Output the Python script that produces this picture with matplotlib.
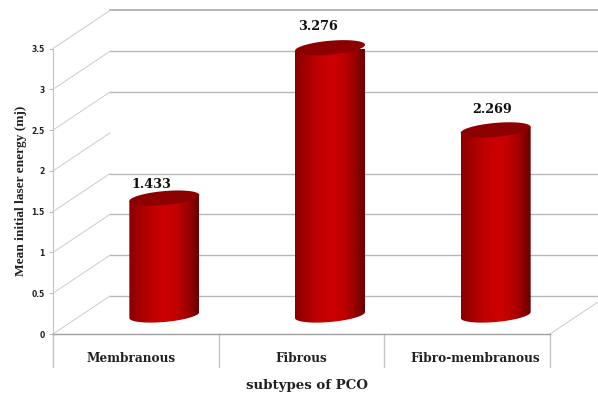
import numpy as np
import matplotlib
matplotlib.use('Agg')
import matplotlib.pyplot as plt
from matplotlib.colors import LinearSegmentedColormap
from matplotlib.patches import Polygon

categories = ['Membranous', 'Fibrous', 'Fibro-membranous']
values = [1.433, 3.276, 2.269]
value_labels = ['1.433', '3.276', '2.269']
y_ticks = [0, 0.5, 1, 1.5, 2, 2.5, 3, 3.5]
y_tick_labels = ['0', '0.5', '1', '1.5', '2', '2.5', '3', '3.5']
wall_lines = [0, 0.5, 1, 1.5, 2.5, 3, 3.5]

# size of one data unit in pixels, and the depth of the fake 3d box
PX_X = 165.67
PX_Y = 81.5
DEPTH_X = 57 / PX_X
DEPTH_Y = 38 / PX_Y
HALF_WIDTH = 35 / PX_X
ELLIPSE_H = 7 / PX_Y
ELLIPSE_TILT = 3 / PX_Y

bar_cmap = LinearSegmentedColormap.from_list(
    'cylinder', ['#8a0000', '#a50000', '#c00000', '#cc0000', '#c40000', '#a00000', '#680000'])


def ellipse_points(cx, cy, start=0, stop=2 * np.pi, num=80):
    """Return the outline of a cylinder end, leaning up towards the right."""
    t = np.linspace(start, stop, num)
    x = cx + HALF_WIDTH * np.cos(t)
    y = cy + ELLIPSE_TILT * np.cos(t) + ELLIPSE_H * np.sin(t)
    return np.column_stack([x, y])


def draw_cylinder(ax, pos, value):
    cx = pos + DEPTH_X / 2
    cy = DEPTH_Y / 2

    # side of the cylinder: top rim, then the lower half of the base ellipse
    top = np.array([[cx + HALF_WIDTH, value + cy + ELLIPSE_TILT], [cx - HALF_WIDTH, value + cy - ELLIPSE_TILT]])
    base = ellipse_points(cx, cy, np.pi, 2 * np.pi)
    side = Polygon(np.vstack([top, base]), closed=True, facecolor='none', edgecolor='none', clip_on=False)
    ax.add_patch(side)

    shade = np.linspace(0, 1, 256).reshape(1, -1)
    img = ax.imshow(shade, cmap=bar_cmap, aspect='auto', zorder=3,
                    extent=[cx - HALF_WIDTH, cx + HALF_WIDTH, cy - ELLIPSE_H * 1.5, value + cy + ELLIPSE_H])
    img.set_clip_path(side)

    lid = Polygon(ellipse_points(cx, value + cy), closed=True, facecolor='#8c0000', edgecolor='none',
                  zorder=4, clip_on=False)
    ax.add_patch(lid)
    return cx, value + cy


fig = plt.figure(figsize=(5.98, 3.94), dpi=100)
ax = fig.add_axes([53 / 598, (394 - 334) / 394, 497 / 598, 285.5 / 394])

# back wall lines and the slanted lines on the side wall
for v in wall_lines:
    top_line = v == 3.5
    ax.plot([DEPTH_X, 3 + DEPTH_X], [v + DEPTH_Y, v + DEPTH_Y], color='#b8b8b8',
            lw=1.4 if top_line else 1.0, clip_on=False, zorder=1)
for v in y_ticks:
    ax.plot([0, DEPTH_X], [v, v + DEPTH_Y], color='#cccccc', lw=0.7, clip_on=False, zorder=1)
ax.plot([3, 3 + DEPTH_X], [0, DEPTH_Y], color='#cccccc', lw=0.7, clip_on=False, zorder=1)

# separators between the categories, hanging below the floor
for pos in range(4):
    ax.plot([pos, pos], [0, -33 / PX_Y], color='#c4c4c4', lw=1.0, clip_on=False, zorder=1)

offsets = [(-13, 14), (-12, 21), (-4, 20)]
for i, value in enumerate(values):
    cx, cy = draw_cylinder(ax, i + 0.5, value)
    ax.annotate(value_labels[i], (cx, cy), xytext=offsets[i], textcoords='offset pixels',
                ha='center', va='center', fontsize=9.2, fontweight='bold',
                family='DejaVu Serif', color='#111111', zorder=5, annotation_clip=False)

ax.set_xlim(0, 3)
ax.set_ylim(0, 3.5)

ax.set_yticks(y_ticks)
ax.set_yticklabels(y_tick_labels, fontsize=5.5, fontweight='bold', color='#222222')
ax.set_xticks([0.47, 1.5, 2.55])
ax.set_xticklabels(categories, fontsize=8.7, fontweight='bold', family='DejaVu Serif', color='#222222')
ax.tick_params(axis='x', length=0, pad=13)
ax.tick_params(axis='y', length=3, width=0.7, color='#b8b8b8', pad=3)

ax.patch.set_visible(False)
ax.spines['top'].set_visible(False)
ax.spines['right'].set_visible(False)
ax.spines['left'].set_color('#c4c4c4')
ax.spines['left'].set_linewidth(0.8)
ax.spines['bottom'].set_color('#a0a0a0')
ax.spines['bottom'].set_linewidth(1.0)

fig.text(307 / 598, 1 - 385 / 394, 'subtypes of PCO', ha='center', va='center',
         fontsize=9.6, fontweight='bold', family='DejaVu Serif', color='#222222')
fig.text(21 / 598, 1 - 191 / 394, 'Mean initial laser energy (mj)', rotation=90, ha='center', va='center',
         fontsize=9.6, fontweight='bold', family='Liberation Serif', color='#222222')

fig.savefig('out.png', dpi=100)
